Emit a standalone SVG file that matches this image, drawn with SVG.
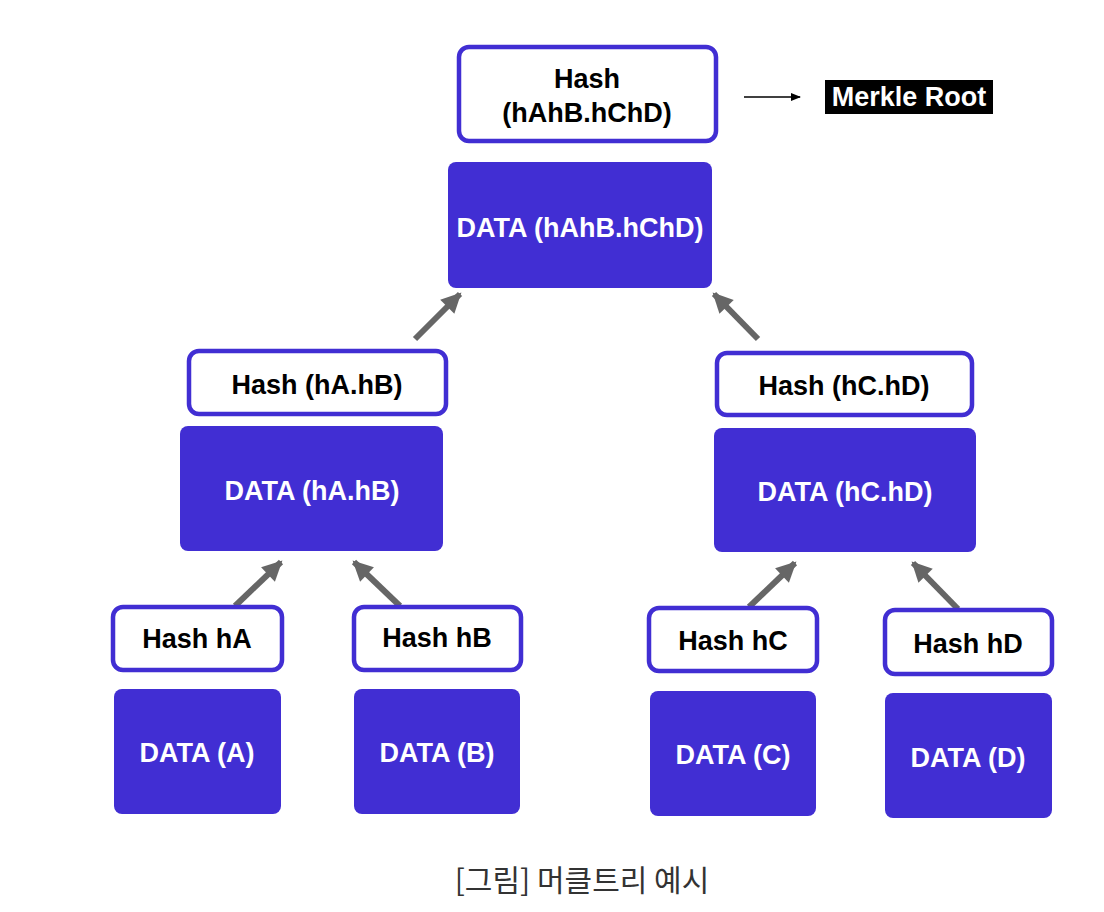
<svg xmlns="http://www.w3.org/2000/svg" width="1104" height="912" viewBox="0 0 1104 912">
<defs>
<style>
.hash{fill:#fff;stroke:#412ED3;stroke-width:4.5}
.data{fill:#412ED3}
.ht{font-family:"Liberation Sans",Arial,sans-serif;font-weight:bold;font-size:27px;fill:#000;text-anchor:middle}
.dt{font-family:"Liberation Sans",Arial,sans-serif;font-weight:bold;font-size:27px;fill:#fff;text-anchor:middle}
.conn{stroke:#666;stroke-width:6;fill:none;marker-end:url(#ah)}
.cap{font-family:"Noto Sans CJK KR","Noto Sans",sans-serif;font-size:30px;fill:#333;text-anchor:middle}
</style>
<marker id="ah" markerUnits="userSpaceOnUse" markerWidth="24" markerHeight="24" viewBox="0 0 24 24" refX="20" refY="12" orient="auto">
<path d="M2,2 L22,12 L2,22 Z" fill="#666"/>
</marker>
<marker id="ahs" markerUnits="userSpaceOnUse" markerWidth="10" markerHeight="10" viewBox="0 0 10 10" refX="9" refY="5" orient="auto">
<path d="M0,1 L10,5 L0,9 Z" fill="#000"/>
</marker>
</defs>
<rect width="1104" height="912" fill="#fff"/>
<g id="connectors">
<line class="conn" x1="415" y1="339" x2="460" y2="294"/>
<line class="conn" x1="758" y1="339" x2="714" y2="294"/>
<line class="conn" x1="235" y1="606" x2="281" y2="562"/>
<line class="conn" x1="400" y1="606" x2="354" y2="562"/>
<line class="conn" x1="749" y1="607" x2="795" y2="563"/>
<line class="conn" x1="958" y1="609" x2="913" y2="563"/>
<line x1="744" y1="97" x2="800" y2="97" stroke="#000" stroke-width="1.5" marker-end="url(#ahs)"/>
</g>
<g id="root-hash">
<rect class="hash" x="459" y="47" width="257" height="94" rx="10"/>
<text class="ht" x="587" y="88">Hash</text>
<text class="ht" x="587" y="122">(hAhB.hChD)</text>
</g>
<g id="merkle-root">
<rect x="825" y="80" width="168" height="34" fill="#000"/>
<text x="909" y="106" font-family="Liberation Sans,Arial,sans-serif" font-weight="bold" font-size="27" fill="#fff" text-anchor="middle">Merkle Root</text>
</g>
<g id="root-data">
<rect class="data" x="448" y="162" width="264" height="126" rx="8"/>
<text class="dt" x="580" y="237">DATA (hAhB.hChD)</text>
</g>
<g id="hash-ab">
<rect class="hash" x="189" y="351" width="257" height="63" rx="10"/>
<text class="ht" x="317" y="394">Hash (hA.hB)</text>
</g>
<g id="data-ab">
<rect class="data" x="180" y="426" width="263" height="125" rx="8"/>
<text class="dt" x="312" y="500">DATA (hA.hB)</text>
</g>
<g id="hash-cd">
<rect class="hash" x="717" y="353" width="255" height="62" rx="10"/>
<text class="ht" x="844" y="395">Hash (hC.hD)</text>
</g>
<g id="data-cd">
<rect class="data" x="714" y="428" width="262" height="124" rx="8"/>
<text class="dt" x="845" y="501">DATA (hC.hD)</text>
</g>
<g id="hash-a">
<rect class="hash" x="113" y="607" width="169" height="63" rx="10"/>
<text class="ht" x="197" y="648">Hash hA</text>
</g>
<g id="hash-b">
<rect class="hash" x="354" y="607" width="167" height="63" rx="10"/>
<text class="ht" x="437" y="647">Hash hB</text>
</g>
<g id="hash-c">
<rect class="hash" x="649" y="608" width="168" height="63" rx="10"/>
<text class="ht" x="733" y="650">Hash hC</text>
</g>
<g id="hash-d">
<rect class="hash" x="885" y="610" width="167" height="64" rx="10"/>
<text class="ht" x="968" y="653">Hash hD</text>
</g>
<g id="data-a">
<rect class="data" x="114" y="689" width="167" height="125" rx="8"/>
<text class="dt" x="197" y="762">DATA (A)</text>
</g>
<g id="data-b">
<rect class="data" x="354" y="689" width="166" height="125" rx="8"/>
<text class="dt" x="437" y="762">DATA (B)</text>
</g>
<g id="data-c">
<rect class="data" x="650" y="691" width="166" height="125" rx="8"/>
<text class="dt" x="733" y="764">DATA (C)</text>
</g>
<g id="data-d">
<rect class="data" x="885" y="693" width="167" height="125" rx="8"/>
<text class="dt" x="968" y="767">DATA (D)</text>
</g>
<text class="cap" x="582" y="891">[그림] 머클트리 예시</text>
</svg>
